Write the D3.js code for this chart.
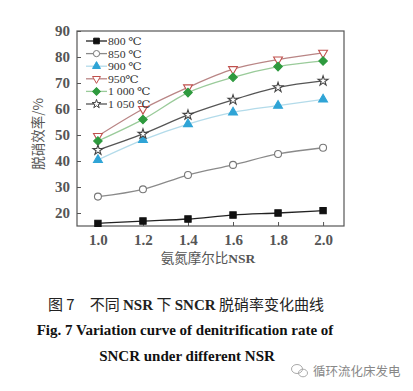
<!DOCTYPE html>
<html>
<head>
<meta charset="utf-8">
<script src="https://cdn.jsdelivr.net/npm/d3@7"></script>
<style>
  body{margin:0;background:#fff;}
  svg{display:block;}
</style>
</head>
<body>
<div id="chart"></div>
<script>
// NSR values on x axis
const nsr = [1.0, 1.2, 1.4, 1.6, 1.8, 2.0];
const xTicks = ["1.0", "1.2", "1.4", "1.6", "1.8", "2.0"];
const yTicks = [20, 30, 40, 50, 60, 70, 80, 90];

// denitrification rate (%) per temperature
const labels = ["800 ℃", "850 ℃", "900 ℃", "950℃", "1 000  ℃", "1 050 ℃"];
const r800 = [16.0, 16.9, 17.7, 19.2, 20.0, 20.9];
const r850 = [26.3, 29.1, 34.6, 38.5, 42.7, 45.1];
const r900 = [40.4, 48.1, 54.2, 58.7, 61.3, 63.7];
const r950 = [49.6, 60.0, 68.3, 75.3, 79.0, 81.6];
const r1000 = [47.7, 56.0, 66.3, 72.2, 76.3, 78.5];
const r1050 = [44.2, 50.4, 57.7, 63.5, 68.3, 70.8];

const series = [r800, r850, r900, r950, r1000, r1050];
//line colour, marker fill, marker stroke, symbol, rotation
const styles = [
    {line:"#222", fill:"#111", stroke:"#111", sym:d3.symbolSquare, size:40, rot:0},
    {line:"#8a8a8a", fill:"#fff", stroke:"#777", sym:d3.symbolCircle, size:38, rot:0},
    {line:"#b3dbea", fill:"#2fa4d6", stroke:"#2fa4d6", sym:d3.symbolTriangle, size:34, rot:0},
    {line:"#b98585", fill:"#fff", stroke:"#c0504d", sym:d3.symbolTriangle, size:34, rot:180},
    {line:"#9acb9a", fill:"#2e9a3e", stroke:"#2e9a3e", sym:d3.symbolSquare, size:36, rot:45},
    {line:"#555", fill:"#fff", stroke:"#444", sym:d3.symbolStar, size:30, rot:0}
];

const W = 413, H = 391;
const svg = d3.select("#chart").append("svg").attr("width", W).attr("height", H);

const mLeft = 77, mRight = 344, mTop = 31, mBottom = 226;
let x = d3.scaleLinear().domain([0.907, 2.093]).range([mLeft, mRight]);
let y = d3.scaleLinear().domain([15, 90]).range([mBottom, mTop]);

const serif = "'Liberation Serif','DejaVu Serif','Times New Roman',serif";
const cjk = "'Noto Sans CJK SC',sans-serif";

//frame
svg.append("rect").attr("x", mLeft).attr("y", mTop)
    .attr("width", mRight-mLeft).attr("height", mBottom-mTop)
    .attr("fill", "none").attr("stroke", "#555").attr("stroke-width", 1.2);

//axes with inward ticks
let xAxis = d3.axisBottom(x).tickValues(nsr).tickSize(-4).tickPadding(8)
    .tickFormat((d,i) => xTicks[i]);
let gx = svg.append("g").attr("transform", "translate(0," + mBottom + ")").call(xAxis);
gx.select(".domain").remove();
gx.selectAll("line").attr("stroke", "#555");
gx.selectAll("text").attr("font-family", serif).attr("font-size", 15)
    .attr("font-weight", "bold").attr("fill", "#555");

let yAxis = d3.axisLeft(y).tickValues(yTicks).tickSize(-4).tickPadding(7);
let gy = svg.append("g").attr("transform", "translate(" + mLeft + ",0)").call(yAxis);
gy.select(".domain").remove();
gy.selectAll("line").attr("stroke", "#555");
gy.selectAll("text").attr("font-family", serif).attr("font-size", 15)
    .attr("font-weight", "bold").attr("fill", "#555");

//axis titles
svg.append("text").attr("transform", "translate(43,134) rotate(-90)")
    .attr("text-anchor", "middle").attr("font-family", cjk).attr("font-size", 13.5)
    .attr("fill", "#555").text("脱硝效率/%");
svg.append("text").attr("x", 208).attr("y", 263).attr("text-anchor", "middle")
    .attr("font-family", cjk).attr("font-size", 13.5).attr("fill", "#555")
    .text("氨氮摩尔比")
    .append("tspan").attr("font-family", serif).attr("font-weight", "bold").text("NSR");

//lines and markers
let line = d3.line().x((d,i) => x(nsr[i])).y(d => y(d)).curve(d3.curveMonotoneX);
let symbolPath = function(s, scale){
    return d3.symbol().type(s.sym).size(s.size * scale)();
};

series.forEach(function(vals, k){
    let s = styles[k];
    svg.append("path").attr("d", line(vals)).attr("fill", "none")
        .attr("stroke", s.line).attr("stroke-width", 1.3);
    svg.selectAll(null).data(vals).enter().append("path")
        .attr("d", symbolPath(s, 1))
        .attr("transform", (d,i) => "translate(" + x(nsr[i]) + "," + y(d) + ") rotate(" + s.rot + ")")
        .attr("fill", s.fill).attr("stroke", s.stroke).attr("stroke-width", 1.1);
});

//legend (text stretched sideways a bit so rows stay tight like the original)
let lg = svg.append("g");
labels.forEach(function(lab, k){
    let s = styles[k];
    let ly = 41 + k * 12.6;
    lg.append("line").attr("x1", 86).attr("x2", 107).attr("y1", ly).attr("y2", ly)
        .attr("stroke", s.line).attr("stroke-width", 1.3);
    lg.append("path").attr("d", symbolPath(s, 0.8))
        .attr("transform", "translate(96.5," + ly + ") rotate(" + s.rot + ")")
        .attr("fill", s.fill).attr("stroke", s.stroke).attr("stroke-width", 1);
    lg.append("text").attr("transform", "translate(108," + (ly + 4) + ") scale(1.12,1)")
        .attr("font-family", serif).attr("font-size", 10.5).attr("fill", "#333")
        .text(lab);
});

//caption
let cap1 = svg.append("text").attr("x", 186).attr("y", 310).attr("text-anchor", "middle")
    .attr("font-family", cjk).attr("font-size", 15).attr("fill", "#222");
cap1.append("tspan").text("图 7　不同 ");
cap1.append("tspan").attr("font-family", serif).attr("font-weight", "bold").text("NSR");
cap1.append("tspan").text(" 下 ");
cap1.append("tspan").attr("font-family", serif).attr("font-weight", "bold").text("SNCR");
cap1.append("tspan").text(" 脱硝率变化曲线");

svg.append("text").attr("x", 185).attr("y", 335).attr("text-anchor", "middle")
    .attr("font-family", serif).attr("font-size", 15).attr("font-weight", "bold")
    .attr("fill", "#111").text("Fig. 7 Variation curve of denitrification rate of");
svg.append("text").attr("x", 187).attr("y", 361).attr("text-anchor", "middle")
    .attr("font-family", serif).attr("font-size", 15).attr("font-weight", "bold")
    .attr("fill", "#111").text("SNCR under different NSR");

//watermark
let wm = svg.append("g").attr("fill", "none").attr("stroke", "#aaa").attr("stroke-width", 1);
wm.append("ellipse").attr("cx", 297).attr("cy", 369).attr("rx", 5.5).attr("ry", 4.5);
wm.append("ellipse").attr("cx", 303).attr("cy", 373).attr("rx", 4.5).attr("ry", 3.8);
svg.append("text").attr("x", 313).attr("y", 376).attr("font-family", cjk)
    .attr("font-size", 12.5).attr("fill", "#888").text("循环流化床发电");
</script>
</body>
</html>
